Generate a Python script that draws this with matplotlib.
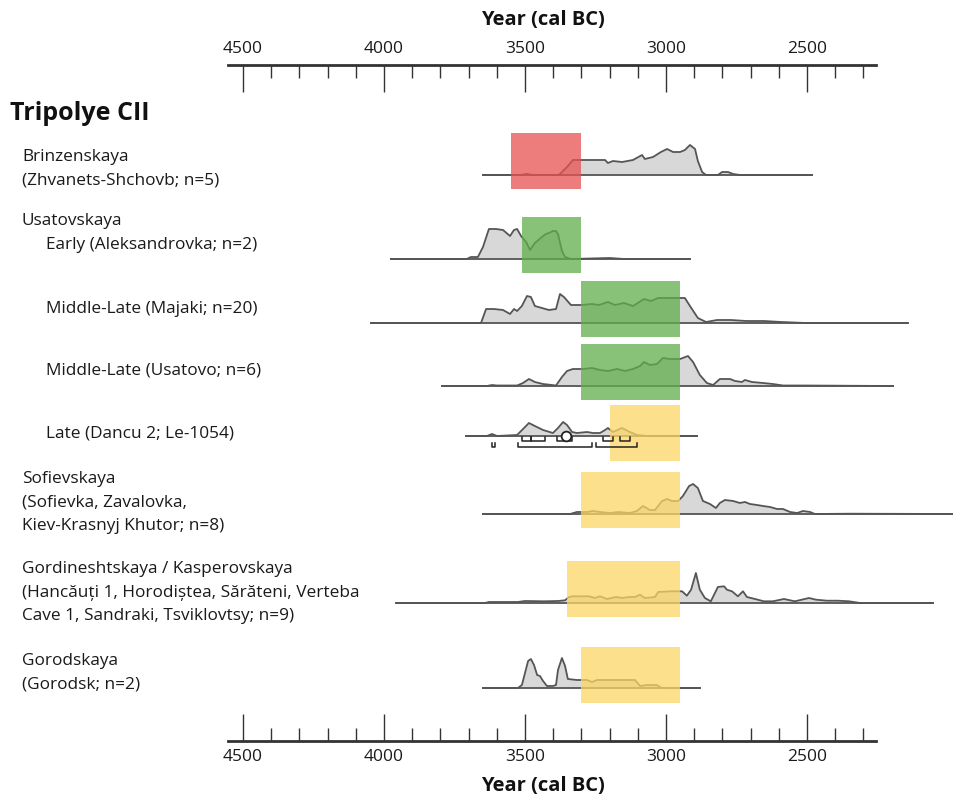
import numpy as np
import matplotlib.pyplot as plt
from matplotlib.transforms import blended_transform_factory

plt.rcParams['font.family'] = ['Open Sans', 'DejaVu Sans']

# summed probability curves (year cal BC, relative density)
brin_years = [3649, 3518, 3493, 3472, 3383, 3376, 3351, 3330, 3270, 3216, 3206, 3188, 3156, 3117, 3085,
              3075, 3046, 3018, 2996, 2975, 2950, 2933, 2915, 2897, 2887, 2872, 2858, 2816, 2801, 2780,
              2762, 2738, 2482]
brin_density = [0, 0, 1, 0, 0, 1, 8, 15, 15, 15, 12, 14, 13, 15, 20, 16, 18, 23, 26, 23, 23, 25, 30, 26, 14,
                3, 0, 0, 3, 3, 1, 0, 0]

early_years = [3975, 3706, 3692, 3667, 3649, 3628, 3603, 3578, 3553, 3539, 3528, 3514, 3496, 3482, 3465,
               3440, 3426, 3415, 3401, 3390, 3383, 3369, 3358, 3337, 3199, 3149, 2915]
early_density = [0, 0, 2, 2, 12, 30, 30, 29, 23, 29, 30, 23, 17, 9, 16, 22, 25, 26, 28, 28, 25, 8, 2, 0, 1,
                 0, 0]

majaki_years = [4046, 3656, 3638, 3610, 3578, 3553, 3539, 3528, 3511, 3493, 3479, 3465, 3440, 3415, 3390,
                3376, 3362, 3337, 3301, 3262, 3238, 3206, 3181, 3149, 3117, 3078, 3053, 3028, 2982, 2933,
                2915, 2887, 2858, 2819, 2770, 2716, 2653, 2592, 2504, 2142]
majaki_density = [0, 0, 14, 14, 13, 9, 14, 12, 17, 27, 26, 17, 15, 13, 14, 29, 26, 18, 18, 19, 18, 21, 18,
                  20, 17, 24, 22, 25, 25, 25, 17, 5, 1, 3, 3, 2, 2, 1, 0, 0]

usatovo_years = [3794, 3635, 3617, 3599, 3528, 3507, 3486, 3465, 3436, 3390, 3369, 3351, 3330, 3294, 3262,
                 3234, 3206, 3174, 3145, 3117, 3092, 3078, 3057, 3032, 3011, 2986, 2950, 2922, 2904, 2880,
                 2855, 2833, 2809, 2773, 2755, 2731, 2720, 2695, 2656, 2621, 2585, 2514, 2195]
usatovo_density = [0, 0, 1, 0.5, 0.5, 3, 7, 4, 2, 0.5, 9, 15, 17, 17, 18, 16, 15, 17, 15, 17, 20, 24, 21,
                   22, 28, 27, 27, 30, 24, 11, 3, 1, 7, 7, 5, 4, 6, 4, 3, 2, 0.5, 0.5, 0]

dancu_years = [3709, 3635, 3617, 3599, 3528, 3507, 3486, 3465, 3436, 3401, 3383, 3365, 3351, 3333, 3316,
               3280, 3259, 3234, 3216, 3206, 3188, 3156, 3128, 3103, 3067, 2890]
dancu_density = [0, 0, 2, 0, 1, 7, 13, 10, 6, 3, 8, 14, 11, 4, 3, 4, 3, 3, 6, 8, 4, 8, 4, 1, 0, 0]

sofi_years = [3649, 3340, 3316, 3280, 3259, 3234, 3199, 3170, 3128, 3103, 3082, 3057, 3039, 3014, 2996,
              2979, 2957, 2940, 2918, 2904, 2887, 2869, 2844, 2823, 2809, 2791, 2762, 2738, 2720, 2702,
              2677, 2656, 2631, 2606, 2585, 2560, 2535, 2514, 2489, 2472, 2348, 1979]
sofi_density = [0, 0, 2, 2, 3, 2, 1, 2, 1, 3, 8, 4, 4, 13, 15, 13, 13, 18, 28, 30, 26, 13, 10, 6, 11, 14,
                13, 11, 12, 10, 9, 8, 7, 5, 5, 2, 1, 3, 2, 0, 0.3, 0]

gordin_years = [3957, 3642, 3628, 3525, 3500, 3433, 3383, 3358, 3344, 3330, 3273, 3252, 3234, 3209, 3177,
                3156, 3131, 3110, 3092, 3075, 3039, 3028, 2982, 2943, 2926, 2911, 2894, 2880, 2862, 2841,
                2816, 2794, 2784, 2766, 2745, 2727, 2713, 2684, 2653, 2621, 2582, 2543, 2493, 2468, 2429,
                2390, 2351, 2312, 2053]
gordin_density = [0, 0, 1, 1, 2, 1.7, 2, 2.7, 6, 6.7, 6.7, 5, 6.7, 4, 6, 5, 6, 6, 8.3, 5, 6, 11, 11.7,
                  11.7, 7.3, 13.3, 30, 13.3, 5, 1.7, 16, 16.7, 13.3, 11.7, 6.7, 11.7, 6, 4, 1.7, 1.7, 4,
                  1.7, 5, 3.3, 2.3, 2.3, 1.7, 0, 0]

gorod_years = [3649, 3525, 3511, 3500, 3489, 3479, 3468, 3457, 3447, 3436, 3422, 3401, 3390, 3383, 3369,
               3358, 3348, 3316, 3280, 3262, 3245, 3174, 3110, 3092, 3067, 3032, 3021, 3011, 2880]
gorod_density = [0, 0, 3, 15, 27, 29, 23, 13, 12, 7, 2, 2, 3, 18, 30, 22, 9, 8, 8, 6, 8, 8, 8, 2, 3, 3,
                 0.7, 0, 0]

# phase ranges (start, end) in cal BC
phase_ranges = [(3550, 3300), (3510, 3300), (3300, 2950), (3300, 2950),
                (3200, 2950), (3300, 2950), (3350, 2950), (3300, 2950)]
phase_colors = ['#e85050', '#60ae4b', '#60ae4b', '#60ae4b',
                '#fcd664', '#fcd664', '#fcd664', '#fcd664']

# single date Le-1054 (Dancu 2)
le1054_sigma1 = [(3511, 3479), (3479, 3429), (3387, 3333), (3223, 3188), (3163, 3128)]
le1054_sigma2 = [(3617, 3606), (3525, 3262), (3248, 3103)]
le1054_median = 3355

curves = [(brin_years, brin_density), (early_years, early_density), (majaki_years, majaki_density),
          (usatovo_years, usatovo_density), (dancu_years, dancu_density), (sofi_years, sofi_density),
          (gordin_years, gordin_density), (gorod_years, gorod_density)]

labels = [
    ("Brinzenskaya", 22, 157), ("(Zhvanets-Shchovb; n=5)", 22, 180),
    ("Usatovskaya", 22, 221), ("Early (Aleksandrovka; n=2)", 46, 245),
    ("Middle-Late (Majaki; n=20)", 46, 309),
    ("Middle-Late (Usatovo; n=6)", 46, 370),
    ("Late (Dancu 2; Le-1054)", 46, 433),
    ("Sofievskaya", 22, 479), ("(Sofievka, Zavalovka,", 22, 502), ("Kiev-Krasnyj Khutor; n=8)", 22, 526),
    ("Gordineshtskaya / Kasperovskaya", 22, 569),
    ("(Hancăuți 1, Horodiștea, Sărăteni, Verteba", 22, 593),
    ("Cave 1, Sandraki, Tsviklovtsy; n=9)", 22, 616),
    ("Gorodskaya", 22, 661), ("(Gorodsk; n=2)", 22, 684),
]

# layout (pixel rows)
baselines = [175, 259, 323, 386, 436, 514, 603, 688]
box_tops = [133, 217, 281, 344, 405, 472, 561, 647]
box_h = 56

W, H = 954, 798
px_per_year = 0.282
left_year = 4500 + 243 / px_per_year

fig = plt.figure(figsize=(W / 100, H / 100), dpi=100)
ax = fig.add_axes([0, (H - 741) / H, 1, (741 - 65) / H])
ax.set_xlim(left_year, left_year - W / px_per_year)
ax.set_ylim(741, 65)

line_col = '#555555'
fill_col = '#d8d8d9'

# density curves
for (yrs, dens), base in zip(curves, baselines):
    yrs = np.array(yrs, dtype=float)
    top = base - np.array(dens, dtype=float)
    ax.fill_between(yrs, top, base, color=fill_col, lw=0, zorder=1)
    ax.plot(yrs, top, color=line_col, lw=1.3, zorder=2)
    ax.plot([yrs[0], yrs[-1]], [base, base], color=line_col, lw=1.3, zorder=2)

# phase boxes
for (a, b), col, top in zip(phase_ranges, phase_colors, box_tops):
    ax.barh(top + box_h / 2, b - a, left=a, height=box_h, color=col, alpha=0.75,
            lw=0, zorder=3)

# Le-1054 ranges
dancu_base = baselines[4]
for ranges, off in [(le1054_sigma1, 5), (le1054_sigma2, 11)]:
    yb = dancu_base + off
    for a, b in ranges:
        ax.plot([a, a, b, b], [yb - 4, yb, yb, yb - 4], color='#222222', lw=1.1, zorder=4)
ax.plot([le1054_median], [dancu_base], 'o', ms=7, mfc='white', mec='#222222', mew=1.3, zorder=5)

# axes
for side in ['left', 'right']:
    ax.spines[side].set_visible(False)
for side in ['top', 'bottom']:
    ax.spines[side].set_bounds(4553, 2255)
    ax.spines[side].set_linewidth(2)
    ax.spines[side].set_color('#333333')

ax.set_xticks([4500, 4000, 3500, 3000, 2500])
ax.set_xticks([y for y in range(4400, 2200, -100) if y % 500 != 0], minor=True)
ax.set_yticks([])
ax.tick_params(axis='x', which='both', top=True, bottom=True, labeltop=True, labelbottom=True,
               direction='in', color='#333333', width=1.0, labelsize=12.5, pad=6,
               labelcolor='#1a1a1a')
ax.tick_params(axis='x', which='major', length=19.5)
ax.tick_params(axis='x', which='minor', length=9.5)

ytr = blended_transform_factory(ax.transAxes, ax.transData)
ax.text(543 / W, 20, "Year (cal BC)", transform=ytr, ha='center', va='center',
        fontsize=14.5, fontweight='bold', color='#111111')
ax.text(543 / W, 786, "Year (cal BC)", transform=ytr, ha='center', va='center',
        fontsize=14.5, fontweight='bold', color='#111111')

ax.text(10 / W, 113, "Tripolye CII", transform=ytr, ha='left', va='center',
        fontsize=18, fontweight='bold', color='#111111')
for txt, x, y in labels:
    ax.text(x / W, y, txt, transform=ytr, ha='left', va='center', fontsize=12.4, color='#1a1a1a')

fig.savefig('out.png', dpi=100)
